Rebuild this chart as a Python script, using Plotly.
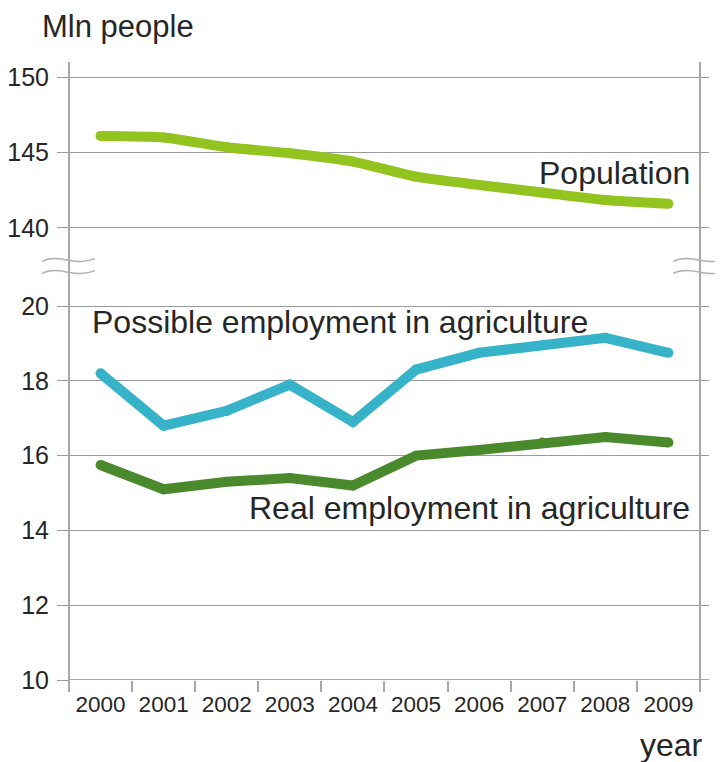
import plotly.graph_objects as go

years = [2000, 2001, 2002, 2003, 2004, 2005, 2006, 2007, 2008, 2009]
year_labels = [str(y) for y in years]
population = [146.1, 146.0, 145.35, 144.95, 144.4, 143.4, 142.85, 142.35, 141.85, 141.6]
possible_emp = [18.2, 16.8, 17.2, 17.9, 16.9, 18.3, 18.75, 18.95, 19.15, 18.75]
real_emp = [15.75, 15.1, 15.3, 15.4, 15.2, 16.0, 16.15, 16.35, 16.5, 16.35]
top_ticks = [140, 145, 150]
bottom_ticks = [10, 12, 14, 16, 18, 20]

C_POP = "#92c31e"
C_POS = "#36b3c8"
C_REAL = "#4b8a2c"
GRID = "#9a9a9a"
AXIS = "#a8a8a8"
TXT = "#262626"
FONT = "Liberation Sans, Arial, sans-serif"

fig = go.Figure()
fig.add_trace(go.Scatter(x=years, y=population, mode="lines+markers",
                         line=dict(color=C_POP, width=10, shape="spline", smoothing=0.6),
                         marker=dict(color=C_POP, size=10), xaxis="x2", yaxis="y2",
                         hoverinfo="skip"))
fig.add_trace(go.Scatter(x=years, y=possible_emp, mode="lines+markers",
                         line=dict(color=C_POS, width=10),
                         marker=dict(color=C_POS, size=10), hoverinfo="skip"))
fig.add_trace(go.Scatter(x=years, y=real_emp, mode="lines+markers",
                         line=dict(color=C_REAL, width=10),
                         marker=dict(color=C_REAL, size=10), hoverinfo="skip"))

xr = [1999.5, 2009.643]
# page body has an 8px default margin, so the figure is sized 8px smaller
fig.update_layout(
    width=715, height=754, showlegend=False,
    margin=dict(l=61, r=14, t=54, b=82, autoexpand=False),
    paper_bgcolor="white", plot_bgcolor="white",
    font=dict(family=FONT, color=TXT),
    xaxis=dict(range=xr, domain=[0, 1], tickvals=years, ticktext=year_labels,
               ticks="", showgrid=False, zeroline=False, automargin=False,
               showline=False, tickfont=dict(size=22.5, color=TXT),
               ticklabelstandoff=8,
               minor=dict(tickvals=[y - 0.5 for y in years] + [years[-1] + 0.5],
                          ticks="outside", ticklen=11, tickwidth=1.5, tickcolor=AXIS,
                          showgrid=False)),
    xaxis2=dict(range=xr, domain=[0, 1], anchor="y2", visible=False, automargin=False),
    yaxis=dict(range=[10, 20.6], domain=[0, 0.6414], tickvals=bottom_ticks,
               showgrid=True, gridcolor=GRID, gridwidth=1.2, zeroline=False,
               ticks="outside", ticklen=11, tickcolor=GRID, tickwidth=1.2, automargin=False,
               tickfont=dict(size=25, color=TXT), ticklabelstandoff=3, showline=False),
    yaxis2=dict(range=[139, 151], domain=[0.7071, 1], tickvals=top_ticks, anchor="x2",
                showgrid=True, gridcolor=GRID, gridwidth=1.2, zeroline=False,
                ticks="outside", ticklen=11, tickcolor=GRID, tickwidth=1.2, automargin=False,
                tickfont=dict(size=25, color=TXT), ticklabelstandoff=3, showline=False),
)

# continuous vertical axis lines across the break
fig.add_shape(type="line", xref="paper", yref="paper", x0=0, x1=0, y0=-0.017, y1=1,
              line=dict(color=AXIS, width=2))
fig.add_shape(type="line", xref="x", yref="paper", x0=2009.5, x1=2009.5, y0=-0.017, y1=1,
              line=dict(color=AXIS, width=2))
# bottom axis line (at y=10)
fig.add_shape(type="line", xref="paper", yref="y", x0=0, x1=1, y0=10, y1=10,
              line=dict(color=AXIS, width=2))

# break marks
def wave(x0, x1, yc, a=0.0075):
    w = x1 - x0
    return (f"M {x0},{yc - a*0.3} C {x0 + w*0.3},{yc + a*1.6} {x0 + w*0.62},{yc - a*1.6} {x1},{yc + a*0.3}")

for (x0, x1) in [(-0.042, 0.0406), (0.944, 1.03)]:
    for yc in [0.6796, 0.6602]:
        fig.add_shape(type="path", xref="paper", yref="paper", path=wave(x0, x1, yc),
                      line=dict(color="#b0b0b0", width=1.5))

ann_font = dict(family=FONT, size=32, color=TXT)
fig.add_annotation(x=2009.37, y=143.62, xref="x2", yref="y2", text="Population",
                   showarrow=False, xanchor="right", yanchor="middle", font=ann_font)
fig.add_annotation(x=1999.83, y=19.57, xref="x", yref="y", text="Possible employment in agriculture",
                   showarrow=False, xanchor="left", yanchor="middle", font=ann_font)
fig.add_annotation(x=2009.37, y=14.6, xref="x", yref="y", text="Real employment in agriculture",
                   showarrow=False, xanchor="right", yanchor="middle", font=ann_font)
fig.add_annotation(x=-0.044, y=1.0874, xref="paper", yref="paper", text="Mln people",
                   showarrow=False, xanchor="left", yanchor="top", borderpad=0,
                   font=dict(family=FONT, size=31, color=TXT))
fig.add_annotation(x=0.994, y=-0.105, xref="paper", yref="paper", text="year",
                   showarrow=False, xanchor="right", yanchor="middle", font=ann_font)

fig.write_html("out.html")
